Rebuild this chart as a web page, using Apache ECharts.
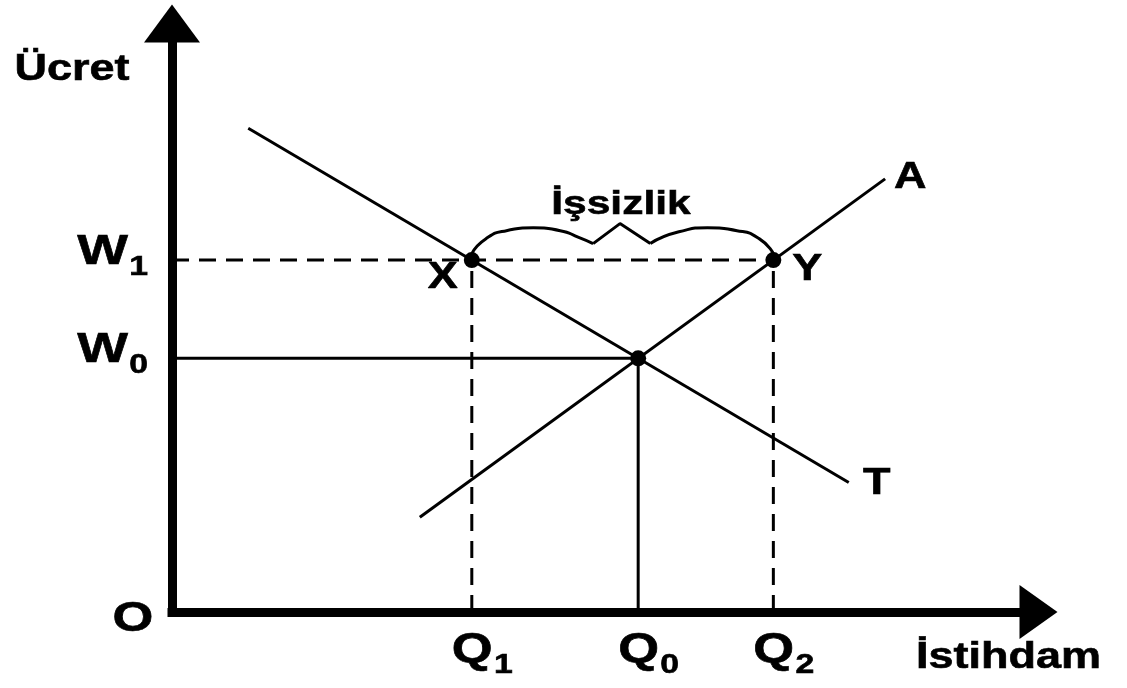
<!DOCTYPE html>
<html>
<head>
<meta charset="utf-8">
<title>Ücret - İstihdam</title>
<script src="https://cdn.jsdelivr.net/npm/echarts@6/dist/echarts.min.js"></script>
<style>
    html, body { margin: 0; padding: 0; background: #fff; }
    #chart { width: 1127px; height: 688px; }
</style>
</head>
<body>
<div id="chart"></div>
<script>
// quantities on the x axis: Q1, Q0, Q2
const qNames = ['1', '0', '2'];
const qValues = [34.6, 53.8, 69.4];
// wages on the y axis: W1, W0
const wNames = ['1', '0'];
const wValues = [59.8, 43.1];

// demand (T) and supply (A) curves
const demandT = [[8.8, 82.2], [78.1, 22.0]];
const supplyA = [[28.6, 16.1], [82.3, 73.6]];

// brace over the unemployment gap
const braceLeft = [[34.6, 60.9], [36.2, 63.4], [38.6, 64.8], [41.7, 65.3], [44.8, 64.8], [47.0, 63.6], [48.6, 62.6]];
const braceZig = [[48.6, 62.6], [51.7, 66.0], [55.2, 62.6]];
const braceRight = [[55.2, 62.6], [58.5, 64.6], [61.8, 65.3], [65.2, 64.8], [67.8, 63.4], [69.4, 60.9]];

const FONT = '"Liberation Sans", Arial, sans-serif';
const SX = 1.25;

const chart = echarts.init(document.getElementById('chart'));

const thin = {color: '#000', width: 3};
const dashed = {color: '#000', width: 3, type: [17, 10]};

function seg(data, style, smooth) {
    return {
        type: 'line',
        data: data,
        symbol: 'none',
        smooth: smooth || false,
        lineStyle: style,
        silent: true,
        z: 3
    };
}

const Q1 = qValues[0], Q0 = qValues[1], Q2 = qValues[2];
const W1 = wValues[0], W0 = wValues[1];

chart.setOption({
    animation: false,
    grid: {left: 172, top: 23.5, right: 88.5, bottom: 76},
    xAxis: {
        type: 'value', min: 0, max: 100,
        axisLine: {
            show: true,
            symbol: ['none', 'triangle'],
            symbolSize: [54, 38],
            lineStyle: {color: '#000', width: 9, cap: 'square'}
        },
        axisTick: {show: false},
        axisLabel: {show: false},
        splitLine: {show: false}
    },
    yAxis: {
        type: 'value', min: 0, max: 100,
        axisLine: {
            show: true,
            symbol: ['none', 'triangle'],
            symbolSize: [56, 38],
            lineStyle: {color: '#000', width: 9, cap: 'square'}
        },
        axisTick: {show: false},
        axisLabel: {show: false},
        splitLine: {show: false}
    },
    series: [
        // dashed guides at W1
        seg([[0, W1], [Q2, W1]], dashed),
        seg([[Q1, 0], [Q1, W1]], dashed),
        seg([[Q2, 0], [Q2, W1]], dashed),
        // solid guides at equilibrium
        seg([[0, W0], [Q0, W0]], thin),
        seg([[Q0, 0], [Q0, W0]], thin),
        // curves
        seg(demandT, thin),
        seg(supplyA, thin),
        // brace
        seg(braceLeft, thin, 0.6),
        seg(braceZig, thin),
        seg(braceRight, thin, 0.6),
        {
            type: 'scatter',
            data: [[Q1, W1], [Q2, W1], [Q0, W0]],
            symbolSize: 16,
            itemStyle: {color: '#000', opacity: 1},
            z: 5
        }
    ]
});

function px(p) {
    return chart.convertToPixel({gridIndex: 0}, p);
}

function txt(x, y, text, size, align, vAlign) {
    return {
        type: 'text',
        x: x, y: y,
        scaleX: SX,
        z: 10,
        style: {
            text: text,
            fill: '#000',
            stroke: '#000',
            lineWidth: 0.6,
            font: 'bold ' + size + 'px ' + FONT,
            align: align || 'center',
            verticalAlign: vAlign || 'middle'
        }
    };
}

function subText(x, y, base, sub, size, subSize, align) {
    return {
        type: 'text',
        x: x, y: y,
        scaleX: SX,
        z: 10,
        style: {
            text: '{b|' + base + '}{s|' + sub + '}',
            fill: '#000',
            align: align,
            verticalAlign: 'middle',
            rich: {
                b: {fontSize: size, fontWeight: 'bold', fontFamily: FONT, lineHeight: size + 2, verticalAlign: 'top', fill: '#000', stroke: '#000', lineWidth: 0.6},
                s: {fontSize: subSize, fontWeight: 'bold', fontFamily: FONT, lineHeight: subSize, verticalAlign: 'top', padding: [23, 0, 0, 1], fill: '#000', stroke: '#000', lineWidth: 0.6}
            }
        }
    };
}

const origin = px([0, 0]);
const xEnd = px([100, 0]);
const yEnd = px([0, 100]);
const graphics = [];

graphics.push(txt(yEnd[0] - 100, yEnd[1] + 47, 'Ücret', 36));
graphics.push(txt(xEnd[0] - 30, xEnd[1] + 46, 'İstihdam', 36));
graphics.push(txt(origin[0] - 39, origin[1] + 7, 'O', 42));

wValues.forEach(function (w, i) {
    const p = px([0, w]);
    graphics.push(subText(p[0] - 24, p[1] - 7, 'W', wNames[i], 43, 27, 'right'));
});
qValues.forEach(function (q, i) {
    const p = px([q, 0]);
    graphics.push(subText(p[0] - 20, p[1] + 39, 'Q', qNames[i], 42, 27, 'left'));
});

const pX = px([Q1, W1]);
graphics.push(txt(pX[0] - 29, pX[1] + 18, 'X', 36));
const pY = px([Q2, W1]);
graphics.push(txt(pY[0] + 34, pY[1] + 10, 'Y', 36));
const pA = px(supplyA[1]);
graphics.push(txt(pA[0] + 25, pA[1] - 1, 'A', 36));
const pT = px(demandT[1]);
graphics.push(txt(pT[0] + 28, pT[1] + 2, 'T', 36));
const peak = px(braceZig[1]);
graphics.push(txt(peak[0] + 1, peak[1] - 19, 'İşsizlik', 34));

chart.setOption({graphic: graphics});
</script>
</body>
</html>
